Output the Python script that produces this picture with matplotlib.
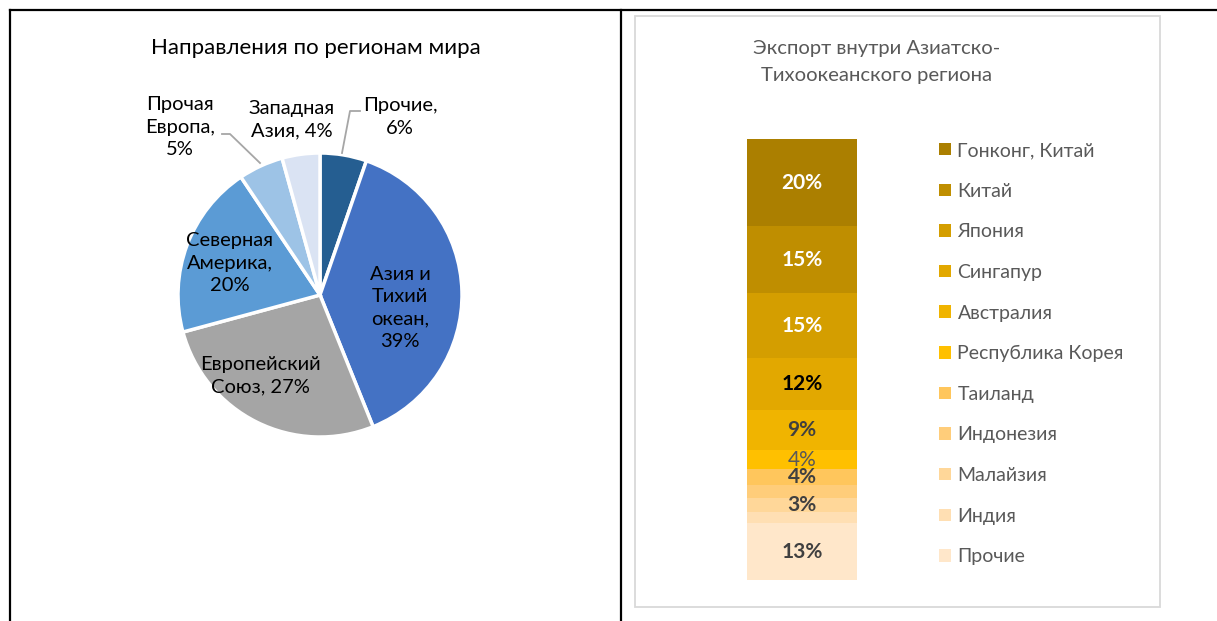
import matplotlib
matplotlib.use("Agg")
import matplotlib.pyplot as plt
from matplotlib.patches import Rectangle, Patch
from matplotlib.lines import Line2D

plt.rcParams['font.family'] = ['Lato', 'DejaVu Sans']

W, H = 1217, 621
DPI = 100

# ---------------- data ----------------
pie_title = "Направления по регионам мира"
pie_categories = ["Прочие", "Азия и\nТихий\nокеан", "Европейский\nСоюз", "Северная\nАмерика",
                  "Прочая\nЕвропа", "Западная\nАзия"]
pie_shares = [5.3, 38.6, 26.9, 19.8, 5.1, 4.3]
pie_pct_labels = ["6%", "39%", "27%", "20%", "5%", "4%"]
pie_colors = ["#255E91", "#4472C4", "#A5A5A5", "#5B9BD5", "#9DC3E6", "#DAE3F3"]

bar_title = "Экспорт внутри Азиатско-\nТихоокеанского региона"
bar_categories = ["Гонконг, Китай", "Китай", "Япония", "Сингапур", "Австралия",
                  "Республика Корея", "Таиланд", "Индонезия", "Малайзия", "Индия", "Прочие"]
bar_values = [19.8, 15.2, 14.6, 11.8, 9.2, 4.3, 3.6, 2.9, 3.2, 2.5, 12.9]
bar_show_label = [True, True, True, True, True, True, True, False, True, False, True]
bar_colors = ["#AB7F00", "#BF8E00", "#D49E00", "#E2A800", "#F0B400", "#FFC000",
              "#FFC65C", "#FFCD7A", "#FFD799", "#FFDFB3", "#FFE7CA"]
bar_label_colors = ["white", "white", "white", "black", "#404040", "#595959",
                    "#404040", "#404040", "#404040", "#404040", "#404040"]
bar_label_weights = ["bold", "bold", "bold", "bold", "bold", "normal",
                     "bold", "bold", "bold", "bold", "bold"]

fig = plt.figure(figsize=(W / DPI, H / DPI), dpi=DPI)

def fx(px):
    return px / W

def fy(py):
    return 1 - py / H

# ---------------- frame lines ----------------
fig.add_artist(Line2D([fx(10), 1], [fy(10), fy(10)], color="black", lw=1.6))
fig.add_artist(Line2D([fx(10), fx(10)], [fy(10), 0], color="black", lw=1.6))
fig.add_artist(Line2D([fx(621), fx(621)], [fy(10), 0], color="black", lw=1.6))
fig.add_artist(Rectangle((fx(635), fy(607)), fx(1160) - fx(635), fy(16) - fy(607),
                         fill=False, edgecolor="#D9D9D9", lw=1.3))

# ---------------- pie ----------------
cx, cy, r = 320, 295, 142
ax1 = fig.add_axes([fx(cx - r), fy(cy + r), fx(2 * r), (2 * r) / H])
ax1.pie(pie_shares, colors=pie_colors, startangle=90, counterclock=False,
        wedgeprops=dict(edgecolor="white", linewidth=2.5))
ax1.set_xlim(-1, 1)
ax1.set_ylim(-1, 1)
ax1.set_aspect('auto')
ax1.axis('off')

def d(px, py):
    return ((px - cx) / r, (cy - py) / r)

fs = 14.5
label_pos = [(400, 117), (400, 308), (260, 376), (230, 263), (180, 127), (292, 120)]
for cat, pct, (px, py) in zip(pie_categories, pie_pct_labels, label_pos):
    if cat in ("Европейский\nСоюз", "Западная\nАзия"):
        txt = cat + ", " + pct
    else:
        txt = cat + ",\n" + pct
    ax1.text(*d(px, py), txt, ha="center", va="center", fontsize=fs,
             color="black", linespacing=1.4, clip_on=False)

# leader lines
lx, ly = zip(d(222, 134), d(230, 134), d(260, 163))
ax1.plot(lx, ly, color="#A6A6A6", lw=1.3, clip_on=False)
lx, ly = zip(d(360, 111), d(350, 111), d(342, 153))
ax1.plot(lx, ly, color="#A6A6A6", lw=1.3, clip_on=False)

fig.text(fx(316), fy(48), pie_title, ha="center", va="center", fontsize=16, color="black")

# ---------------- stacked bar ----------------
bx0, bx1, by0, by1 = 747, 857, 139, 580
ax2 = fig.add_axes([fx(bx0), fy(by1), fx(bx1 - bx0), (by1 - by0) / H])
total = sum(bar_values)
bottom = 0.0
order = list(range(len(bar_values)))[::-1]
for i in order:
    v = bar_values[i]
    ax2.bar(0, v, bottom=bottom, width=1.0, color=bar_colors[i], edgecolor="none")
    if bar_show_label[i]:
        ax2.text(0, bottom + v / 2, f"{v:.0f}%", ha="center", va="center",
                 fontsize=15, color=bar_label_colors[i], fontweight=bar_label_weights[i])
    bottom += v
ax2.set_xlim(-0.5, 0.5)
ax2.set_ylim(0, total)
ax2.axis('off')

fig.text(fx(877), fy(62), bar_title, ha="center", va="center", fontsize=14.6,
         color="#595959", linespacing=1.73)

handles = [Patch(facecolor=c, edgecolor="none") for c in bar_colors]
fig.legend(handles, bar_categories, loc="upper left",
           bbox_to_anchor=(fx(939), fy(142)), frameon=False, fontsize=14,
           labelcolor="#595959", handlelength=0.6, handleheight=0.6,
           handletextpad=0.35, labelspacing=1.215, borderpad=0, borderaxespad=0)

fig.savefig("out.png", dpi=DPI)
